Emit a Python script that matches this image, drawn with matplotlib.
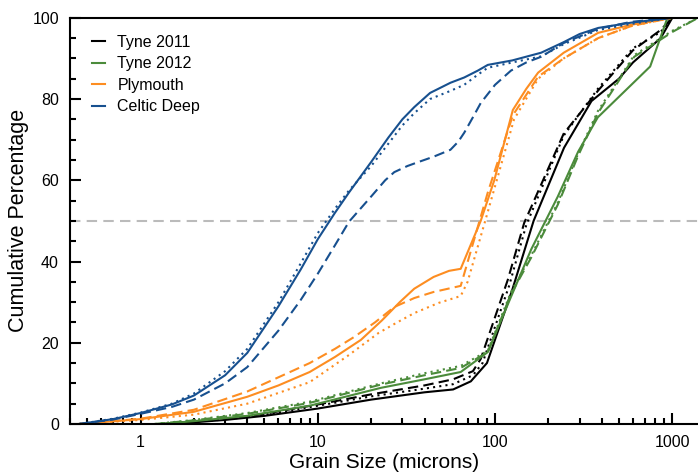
import numpy as np
import matplotlib.pyplot as plt
from matplotlib.ticker import FixedLocator, LogLocator, NullFormatter, MultipleLocator

plt.rcParams['font.family'] = ['Liberation Sans', 'DejaVu Sans']

# colours per site
c_tyne11 = '#000000'
c_tyne12 = '#4b8b3b'
c_plym = '#fd8d21'
c_celtic = '#17508f'

# Celtic Deep
cd_solid_x = [0.45, 0.7, 1, 1.5, 2, 3, 4, 6, 8, 10, 12.5, 15, 20, 25, 30, 35, 43, 56, 67, 80, 91, 125, 182, 244, 300, 382, 586, 1000, 1400]
cd_solid_y = [0, 1.2, 2.7, 4.8, 7, 12, 17.5, 29, 38, 45.5, 52, 57, 64.5, 70.5, 75, 78, 81.5, 84, 85.3, 87, 88.4, 89.5, 91.4, 94, 96, 97.5, 98.8, 100, 100]
cd_dot_x = [0.45, 0.7, 1, 1.5, 2, 3, 4, 6, 8, 10, 12.5, 15, 20, 25, 30, 35, 43, 56, 67, 80, 91, 125, 182, 244, 382, 586, 1000, 1400]
cd_dot_y = [0, 1.3, 2.8, 5, 7.5, 13, 18.5, 30, 39.5, 47, 53, 57.5, 63.5, 69, 73.5, 76.5, 80, 82, 83.5, 86, 87.7, 89, 90.5, 93.5, 97, 98.5, 100, 100]
cd_dash_x = [0.45, 0.7, 1, 1.5, 2, 3, 4, 6, 8, 10, 12.5, 15, 20, 24, 27, 32, 37, 45, 56, 62, 67, 75, 83, 100, 123, 150, 182, 244, 382, 586, 1000, 1400]
cd_dash_y = [0, 1.1, 2.5, 4.2, 6, 10, 14, 23, 30.5, 37, 44, 49.8, 56, 60, 62, 63.5, 64.5, 65.8, 67.5, 69.5, 71.7, 75.5, 79, 83.5, 87, 89, 90.4, 93.8, 97.3, 99, 100, 100]

# Plymouth
pl_solid_x = [0.45, 1, 2, 4, 6, 9, 12.5, 17.5, 23, 29, 35, 45, 55, 64, 83, 99, 126, 150, 175, 244, 382, 590, 1000, 1400]
pl_solid_y = [0, 1.2, 3, 6.7, 9.5, 12.8, 16.5, 20.7, 25.5, 30, 33.3, 36.2, 37.7, 38.2, 50, 60, 77.3, 82.5, 86.5, 91.4, 96.3, 98.3, 100, 100]
pl_dash_x = [0.45, 1, 2, 4, 9, 12.5, 16, 21, 27, 35, 45, 64, 91, 126, 175, 244, 382, 590, 1000, 1400]
pl_dash_y = [0, 1.3, 3.5, 8, 15, 18.5, 21.4, 25, 28.8, 31, 32.5, 34, 57, 76, 85.5, 90, 95, 98, 100, 100]
pl_dot_x = [0.45, 1, 2, 4, 9, 15, 22, 28, 35, 48, 64, 70, 88, 128, 175, 244, 382, 590, 1000, 1400]
pl_dot_y = [0, 1, 2.3, 5, 10.3, 17, 22.4, 25, 27.3, 29.8, 31.5, 35, 50, 75, 85, 90, 95, 98, 100, 100]

# Tyne 2011
t11_solid_x = [1.5, 3, 5, 10, 20, 40, 58, 73, 90, 125, 165, 245, 350, 500, 600, 860, 1000, 1400]
t11_solid_y = [0, 1, 2, 3.8, 6, 7.8, 8.5, 10.5, 15, 33, 50, 68, 79.5, 85, 89, 95, 100, 100]
t11_dash_x = [1.3, 3, 5, 10, 20, 40, 58, 75, 83, 118, 146, 244, 380, 600, 860, 1000, 1400]
t11_dash_y = [0, 1.2, 2.5, 4.8, 7.3, 9.5, 11, 13, 16, 35.5, 49.5, 71.5, 82, 92, 97, 100, 100]
t11_dot_x = [1.3, 3, 5, 10, 20, 40, 58, 75, 85, 120, 150, 244, 380, 600, 860, 1000, 1400]
t11_dot_y = [0, 1.1, 2.3, 4.5, 6.8, 8.7, 9.8, 12, 15, 34, 49, 71, 82.5, 92.5, 96.5, 100, 100]

# Tyne 2012
t12_solid_x = [1.3, 2, 4, 9, 22.7, 40, 64, 91, 123, 160, 226, 294, 380, 750, 930, 1000, 1400]
t12_solid_y = [0, 0.7, 2, 4.5, 8.9, 11, 12.8, 17.7, 31.3, 43, 56, 67, 75.5, 88, 99.5, 100, 100]
t12_dash_x = [1.2, 2, 4, 9, 22.7, 40, 64, 91, 123, 160, 226, 294, 380, 610, 1000, 1400]
t12_dash_y = [0, 0.9, 2.5, 5.2, 9.7, 12, 13.8, 17.7, 32, 41, 54, 66, 76.5, 90.4, 96.5, 100]
t12_dot_x = [1.2, 2, 4, 9, 22.7, 40, 64, 91, 123, 160, 226, 294, 380, 610, 1000, 1400]
t12_dot_y = [0, 1.0, 2.7, 5.5, 10, 12.5, 14.3, 18, 32.5, 41.5, 54.5, 66.5, 77, 90.8, 96.8, 100]

names = ['Tyne 2011', 'Tyne 2012', 'Plymouth', 'Celtic Deep']

fig = plt.figure(figsize=(6.98, 4.74), dpi=100)
ax = fig.add_axes([0.1003, 0.1055, 0.9, 0.857])

lw = 1.5
dash = (0, (5, 2.5))
dot = (0, (1, 2))
ax.axhline(50, color='#bbbbbb', lw=1.5, ls=(0, (5, 3)), zorder=0)

ax.plot(t11_solid_x, t11_solid_y, color=c_tyne11, lw=lw, ls='-')
ax.plot(t11_dash_x, t11_dash_y, color=c_tyne11, lw=lw, ls=dash)
ax.plot(t11_dot_x, t11_dot_y, color=c_tyne11, lw=lw, ls=dot)

ax.plot(t12_solid_x, t12_solid_y, color=c_tyne12, lw=lw, ls='-')
ax.plot(t12_dash_x, t12_dash_y, color=c_tyne12, lw=lw, ls=dash)
ax.plot(t12_dot_x, t12_dot_y, color=c_tyne12, lw=lw, ls=dot)

ax.plot(pl_solid_x, pl_solid_y, color=c_plym, lw=lw, ls='-')
ax.plot(pl_dash_x, pl_dash_y, color=c_plym, lw=lw, ls=dash)
ax.plot(pl_dot_x, pl_dot_y, color=c_plym, lw=lw, ls=dot)

ax.plot(cd_solid_x, cd_solid_y, color=c_celtic, lw=lw, ls='-')
ax.plot(cd_dash_x, cd_dash_y, color=c_celtic, lw=lw, ls=dash)
ax.plot(cd_dot_x, cd_dot_y, color=c_celtic, lw=lw, ls=dot)

# legend with colour handles only
handles = [plt.Line2D([], [], color=c, lw=lw) for c in [c_tyne11, c_tyne12, c_plym, c_celtic]]
ax.legend(handles, names, loc='upper left', bbox_to_anchor=(0.012, 0.993), frameon=False,
          fontsize=11.5, handlelength=0.8, handletextpad=0.8, labelspacing=0.4)

ax.set_xscale('log')
ax.set_xlim(0.4, 1400)
ax.set_ylim(0, 100)
ax.xaxis.set_major_locator(FixedLocator([1, 10, 100, 1000]))
ax.set_xticklabels(['1', '10', '100', '1000'])
ax.xaxis.set_minor_locator(LogLocator(base=10, subs=np.arange(2, 10)))
ax.xaxis.set_minor_formatter(NullFormatter())
ax.yaxis.set_major_locator(MultipleLocator(20))
ax.yaxis.set_minor_locator(MultipleLocator(5))

ax.tick_params(which='both', direction='in', top=False, right=False, width=1.5, labelsize=11.5)
ax.tick_params(which='major', length=8, pad=8)
ax.tick_params(which='minor', length=4)
for s in ax.spines.values():
    s.set_linewidth(1.5)
ax.spines['right'].set_visible(False)

ax.set_xlabel('Grain Size (microns)', fontsize=15, labelpad=2)
ax.set_ylabel('Cumulative Percentage', fontsize=15.5, labelpad=2)

fig.savefig('out.png', dpi=100)
